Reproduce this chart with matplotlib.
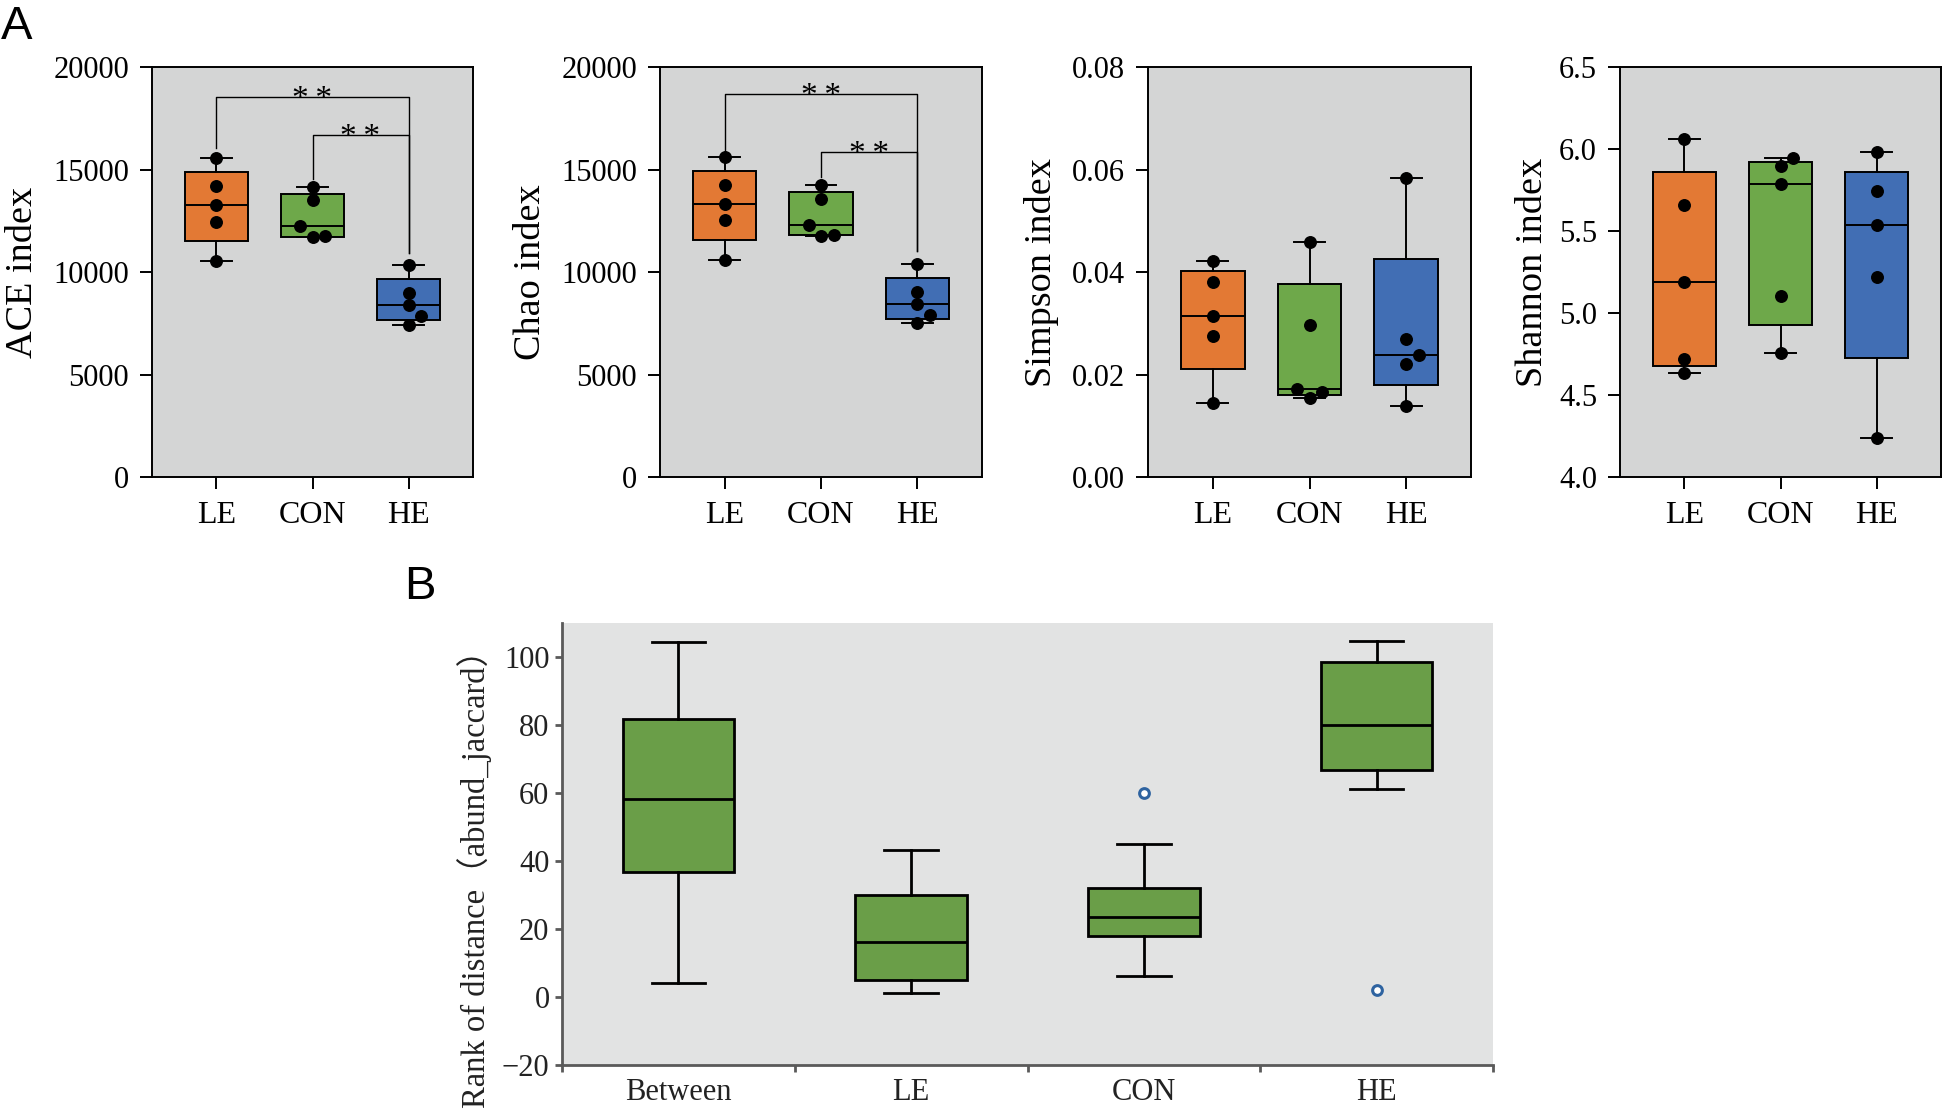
import numpy as np
import matplotlib.pyplot as plt

plt.rcParams['font.family'] = ['Liberation Serif', 'DejaVu Serif']

# ---- data ----
groups = ['LE', 'CON', 'HE']
colors_a = ['#e37934', '#6ea84a', '#416eb4']

ace_le = [10550, 12460, 13270, 14190, 15540]
ace_con = [11700, 11750, 12250, 13490, 14140]
ace_he = [7435, 7850, 8375, 8985, 10350]

chao_le = [10600, 12530, 13320, 14260, 15595]
chao_con = [11780, 11800, 12315, 13550, 14230]
chao_he = [7500, 7880, 8420, 9035, 10400]

simpson_le = [0.01445, 0.0276, 0.0315, 0.0381, 0.0422]
simpson_con = [0.0155, 0.0165, 0.0172, 0.0296, 0.0458]
simpson_he = [0.0139, 0.0220, 0.0239, 0.0269, 0.0583]

shannon_le = [4.637, 4.719, 5.189, 5.657, 6.061]
shannon_con = [4.756, 5.103, 5.787, 5.898, 5.948]
shannon_he = [4.237, 5.218, 5.535, 5.742, 5.983]

# panel B box summaries
b_groups = ['Between', 'LE', 'CON', 'HE']
b_whislo = [4.1, 1.2, 6.1, 61.1]
b_q1 = [36.8, 5.0, 17.8, 66.7]
b_med = [58.2, 16.1, 23.4, 80.1]
b_q3 = [81.8, 30.1, 32.2, 98.5]
b_whishi = [104.4, 43.3, 45.0, 104.7]
b_fliers = [[], [], [60.0], [2.0]]


W, H = 1944, 1115
fig = plt.figure(figsize=(W / 100, H / 100), dpi=100)


def px_axes(left, top, right, bottom):
    return fig.add_axes([left / W, 1 - bottom / H, (right - left) / W, (bottom - top) / H])


def swarm(vals, ax, d=12.5):
    # simple beeswarm offsets so the dots don't overlap
    bb = ax.get_position()
    sx = bb.width * W / np.ptp(ax.get_xlim())
    sy = bb.height * H / np.ptp(ax.get_ylim())
    placed, offs = [], {}
    for i in np.argsort(vals):
        y = vals[i] * sy
        for k in [0, 1, -1, 2, -2, 3, -3]:
            x = k * d
            if all((x - px) ** 2 + (y - py) ** 2 >= d ** 2 for px, py in placed):
                break
        placed.append((x, y))
        offs[i] = x / sx
    return np.array([offs[i] for i in range(len(vals))])


def alpha_panel(ax, data, ylim, yticks, fmt, ylabel, label_x):
    ax.set_facecolor('#d4d5d5')
    ax.set_xlim(-0.67, 2.67)
    ax.set_ylim(*ylim)
    stats = []
    for v in data:
        q1, q3 = np.percentile(v, [25, 75], method='weibull')
        stats.append(dict(med=np.median(v), q1=q1, q3=q3,
                          whislo=min(v), whishi=max(v), fliers=[]))
    bp = ax.bxp(stats, positions=range(3), widths=0.66, capwidths=0.32,
                patch_artist=True, showfliers=False,
                boxprops=dict(edgecolor='black', linewidth=1.4),
                medianprops=dict(color='black', linewidth=1.4),
                whiskerprops=dict(color='black', linewidth=1.4),
                capprops=dict(color='black', linewidth=1.4))
    for patch, c in zip(bp['boxes'], colors_a):
        patch.set_facecolor(c)
    for i, v in enumerate(data):
        ax.plot(i + swarm(v, ax), v, 'o', color='black', markersize=8.3, zorder=5)
    ax.set_xticks(range(3), groups)
    ax.set_yticks(yticks, [fmt.format(t) for t in yticks])
    ax.tick_params(length=8.5, width=1.4, labelsize=22, color='black')
    ax.tick_params(axis='x', labelsize=23, pad=9)
    ax.tick_params(axis='y', pad=8)
    for s in ax.spines.values():
        s.set_linewidth(1.4)
    ax.set_ylabel(ylabel, fontsize=27.5)
    ax.yaxis.set_label_coords(label_x, 0.5)


def bracket(ax, x1, x2, y, low1, low2):
    ax.plot([x1, x1, x2, x2], [low1, y, y, low2], color='black', lw=1.0)
    ax.annotate('*\u2009*', ((x1 + x2) / 2, y), xytext=(0, -8), textcoords='offset points',
                ha='center', va='baseline', fontsize=24)


TOP, BOT = 67, 477

ax1 = px_axes(152, TOP, 473, BOT)
alpha_panel(ax1, [ace_le, ace_con, ace_he], (0, 20000), [0, 5000, 10000, 15000, 20000],
            '{:.0f}', 'ACE index', -0.35)
bracket(ax1, 0, 2, 18560, 16040, 10930)
bracket(ax1, 1, 2, 16670, 14560, 10930)

ax2 = px_axes(660, TOP, 982, BOT)
alpha_panel(ax2, [chao_le, chao_con, chao_he], (0, 20000), [0, 5000, 10000, 15000, 20000],
            '{:.0f}', 'Chao index', -0.348)
bracket(ax2, 0, 2, 18680, 15790, 11030)
bracket(ax2, 1, 2, 15840, 14640, 11030)

ax3 = px_axes(1148, TOP, 1471, BOT)
alpha_panel(ax3, [simpson_le, simpson_con, simpson_he], (0, 0.08), [0, 0.02, 0.04, 0.06, 0.08],
            '{:.2f}', 'Simpson index', -0.275)

ax4 = px_axes(1620, TOP, 1941, BOT)
alpha_panel(ax4, [shannon_le, shannon_con, shannon_he], (4.0, 6.5), [4.0, 4.5, 5.0, 5.5, 6.0, 6.5],
            '{:.1f}', 'Shannon index', -0.218)

# ---- panel B ----
axb = px_axes(562, 623, 1493, 1065)
axb.set_facecolor('#e2e3e3')
stats_b = [dict(med=m, q1=a, q3=b, whislo=lo, whishi=hi, fliers=f)
           for m, a, b, lo, hi, f in zip(b_med, b_q1, b_q3, b_whislo, b_whishi, b_fliers)]
axb.bxp(stats_b, positions=range(4), widths=0.48, capwidths=0.23, patch_artist=True,
        boxprops=dict(facecolor='#6a9e48', edgecolor='black', linewidth=2.0),
        medianprops=dict(color='black', linewidth=2.0),
        whiskerprops=dict(color='black', linewidth=2.0),
        capprops=dict(color='black', linewidth=2.0),
        flierprops=dict(marker='o', markerfacecolor='white', markeredgecolor='#2e63a0',
                        markersize=7, markeredgewidth=2.2))
axb.set_xlim(-0.5, 3.5)
axb.set_ylim(-20, 110)
axb.set_yticks(range(-20, 101, 20))
axb.set_xticks(np.arange(-0.5, 4, 1), [])
axb.set_xticks(range(4), b_groups, minor=True)
axb.tick_params(axis='x', which='minor', length=0, labelsize=22, pad=9, labelcolor='#222222')
axb.tick_params(axis='x', which='major', length=5, width=2, color='#5a5a5a')
axb.tick_params(axis='y', length=5, width=2, color='#5a5a5a', labelsize=22, pad=4,
                labelcolor='#222222')
for side in ['top', 'right']:
    axb.spines[side].set_visible(False)
for side in ['left', 'bottom']:
    axb.spines[side].set_color('#5a5a5a')
    axb.spines[side].set_linewidth(2.0)
axb.set_ylabel('Rank of distance（abund_jaccard）', fontsize=23.5, color='#222222',
               family=['Liberation Serif', 'Noto Sans CJK SC'])
axb.yaxis.set_label_coords(-0.075, 0.44)

fig.text(1 / W, 1 - 5 / H, 'A', fontsize=34, family='Liberation Sans', va='top', ha='left')
fig.text(404 / W, 1 - 565 / H, 'B', fontsize=34, family='Liberation Sans', va='top', ha='left')

fig.savefig('out.png', dpi=100)
